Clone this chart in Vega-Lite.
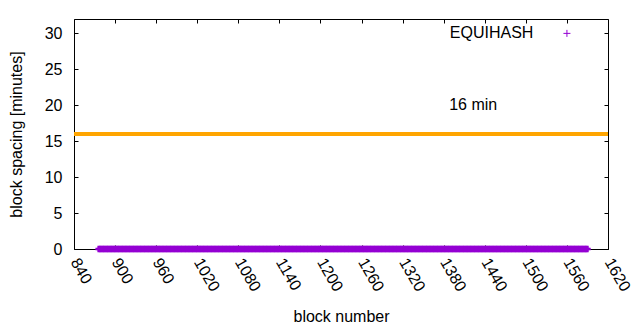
{
  "$schema": "https://vega.github.io/schema/vega-lite/v6.json",
  "width": 534,
  "height": 230,
  "autosize": "none",
  "padding": {"left": 74, "top": 19, "right": 32, "bottom": 81},
  "background": "white",
  "config": {
    "view": {"stroke": "black", "strokeWidth": 1},
    "font": "Liberation Sans",
    "axis": {
      "domain": false,
      "grid": false,
      "labelFont": "Liberation Sans",
      "labelFontSize": 16,
      "labelColor": "black",
      "tickColor": "black",
      "tickSize": -4,
      "tickWidth": 1,
      "format": "d",
      "titleFont": "Liberation Sans",
      "titleFontSize": 16,
      "titleFontWeight": "normal",
      "titleColor": "black"
    }
  },
  "datasets": {
    "target": [{"b": 840, "s": 16}, {"b": 1620, "s": 16}],
    "note": [{"b": 1388, "s": 20, "t": "16 min"}],
    "key": [{"b": 1511, "s": 30, "t": "EQUIHASH", "k": 1560}],
    "equihash": [
{"b":876,"s":0},{"b":878,"s":0},{"b":880,"s":0},{"b":882,"s":0},{"b":884,"s":0},{"b":886,"s":0},{"b":888,"s":0},{"b":890,"s":0},{"b":892,"s":0},{"b":894,"s":0},
{"b":896,"s":0},{"b":898,"s":0},{"b":900,"s":0},{"b":902,"s":0},{"b":904,"s":0},{"b":906,"s":0},{"b":908,"s":0},{"b":910,"s":0},{"b":912,"s":0},{"b":914,"s":0},
{"b":916,"s":0},{"b":918,"s":0},{"b":920,"s":0},{"b":922,"s":0},{"b":924,"s":0},{"b":926,"s":0},{"b":928,"s":0},{"b":930,"s":0},{"b":932,"s":0},{"b":934,"s":0},
{"b":936,"s":0},{"b":938,"s":0},{"b":940,"s":0},{"b":942,"s":0},{"b":944,"s":0},{"b":946,"s":0},{"b":948,"s":0},{"b":950,"s":0},{"b":952,"s":0},{"b":954,"s":0},
{"b":956,"s":0},{"b":958,"s":0},{"b":960,"s":0},{"b":962,"s":0},{"b":964,"s":0},{"b":966,"s":0},{"b":968,"s":0},{"b":970,"s":0},{"b":972,"s":0},{"b":974,"s":0},
{"b":976,"s":0},{"b":978,"s":0},{"b":980,"s":0},{"b":982,"s":0},{"b":984,"s":0},{"b":986,"s":0},{"b":988,"s":0},{"b":990,"s":0},{"b":992,"s":0},{"b":994,"s":0},
{"b":996,"s":0},{"b":998,"s":0},{"b":1000,"s":0},{"b":1002,"s":0},{"b":1004,"s":0},{"b":1006,"s":0},{"b":1008,"s":0},{"b":1010,"s":0},{"b":1012,"s":0},{"b":1014,"s":0},
{"b":1016,"s":0},{"b":1018,"s":0},{"b":1020,"s":0},{"b":1022,"s":0},{"b":1024,"s":0},{"b":1026,"s":0},{"b":1028,"s":0},{"b":1030,"s":0},{"b":1032,"s":0},{"b":1034,"s":0},
{"b":1036,"s":0},{"b":1038,"s":0},{"b":1040,"s":0},{"b":1042,"s":0},{"b":1044,"s":0},{"b":1046,"s":0},{"b":1048,"s":0},{"b":1050,"s":0},{"b":1052,"s":0},{"b":1054,"s":0},
{"b":1056,"s":0},{"b":1058,"s":0},{"b":1060,"s":0},{"b":1062,"s":0},{"b":1064,"s":0},{"b":1066,"s":0},{"b":1068,"s":0},{"b":1070,"s":0},{"b":1072,"s":0},{"b":1074,"s":0},
{"b":1076,"s":0},{"b":1078,"s":0},{"b":1080,"s":0},{"b":1082,"s":0},{"b":1084,"s":0},{"b":1086,"s":0},{"b":1088,"s":0},{"b":1090,"s":0},{"b":1092,"s":0},{"b":1094,"s":0},
{"b":1096,"s":0},{"b":1098,"s":0},{"b":1100,"s":0},{"b":1102,"s":0},{"b":1104,"s":0},{"b":1106,"s":0},{"b":1108,"s":0},{"b":1110,"s":0},{"b":1112,"s":0},{"b":1114,"s":0},
{"b":1116,"s":0},{"b":1118,"s":0},{"b":1120,"s":0},{"b":1122,"s":0},{"b":1124,"s":0},{"b":1126,"s":0},{"b":1128,"s":0},{"b":1130,"s":0},{"b":1132,"s":0},{"b":1134,"s":0},
{"b":1136,"s":0},{"b":1138,"s":0},{"b":1140,"s":0},{"b":1142,"s":0},{"b":1144,"s":0},{"b":1146,"s":0},{"b":1148,"s":0},{"b":1150,"s":0},{"b":1152,"s":0},{"b":1154,"s":0},
{"b":1156,"s":0},{"b":1158,"s":0},{"b":1160,"s":0},{"b":1162,"s":0},{"b":1164,"s":0},{"b":1166,"s":0},{"b":1168,"s":0},{"b":1170,"s":0},{"b":1172,"s":0},{"b":1174,"s":0},
{"b":1176,"s":0},{"b":1178,"s":0},{"b":1180,"s":0},{"b":1182,"s":0},{"b":1184,"s":0},{"b":1186,"s":0},{"b":1188,"s":0},{"b":1190,"s":0},{"b":1192,"s":0},{"b":1194,"s":0},
{"b":1196,"s":0},{"b":1198,"s":0},{"b":1200,"s":0},{"b":1202,"s":0},{"b":1204,"s":0},{"b":1206,"s":0},{"b":1208,"s":0},{"b":1210,"s":0},{"b":1212,"s":0},{"b":1214,"s":0},
{"b":1216,"s":0},{"b":1218,"s":0},{"b":1220,"s":0},{"b":1222,"s":0},{"b":1224,"s":0},{"b":1226,"s":0},{"b":1228,"s":0},{"b":1230,"s":0},{"b":1232,"s":0},{"b":1234,"s":0},
{"b":1236,"s":0},{"b":1238,"s":0},{"b":1240,"s":0},{"b":1242,"s":0},{"b":1244,"s":0},{"b":1246,"s":0},{"b":1248,"s":0},{"b":1250,"s":0},{"b":1252,"s":0},{"b":1254,"s":0},
{"b":1256,"s":0},{"b":1258,"s":0},{"b":1260,"s":0},{"b":1262,"s":0},{"b":1264,"s":0},{"b":1266,"s":0},{"b":1268,"s":0},{"b":1270,"s":0},{"b":1272,"s":0},{"b":1274,"s":0},
{"b":1276,"s":0},{"b":1278,"s":0},{"b":1280,"s":0},{"b":1282,"s":0},{"b":1284,"s":0},{"b":1286,"s":0},{"b":1288,"s":0},{"b":1290,"s":0},{"b":1292,"s":0},{"b":1294,"s":0},
{"b":1296,"s":0},{"b":1298,"s":0},{"b":1300,"s":0},{"b":1302,"s":0},{"b":1304,"s":0},{"b":1306,"s":0},{"b":1308,"s":0},{"b":1310,"s":0},{"b":1312,"s":0},{"b":1314,"s":0},
{"b":1316,"s":0},{"b":1318,"s":0},{"b":1320,"s":0},{"b":1322,"s":0},{"b":1324,"s":0},{"b":1326,"s":0},{"b":1328,"s":0},{"b":1330,"s":0},{"b":1332,"s":0},{"b":1334,"s":0},
{"b":1336,"s":0},{"b":1338,"s":0},{"b":1340,"s":0},{"b":1342,"s":0},{"b":1344,"s":0},{"b":1346,"s":0},{"b":1348,"s":0},{"b":1350,"s":0},{"b":1352,"s":0},{"b":1354,"s":0},
{"b":1356,"s":0},{"b":1358,"s":0},{"b":1360,"s":0},{"b":1362,"s":0},{"b":1364,"s":0},{"b":1366,"s":0},{"b":1368,"s":0},{"b":1370,"s":0},{"b":1372,"s":0},{"b":1374,"s":0},
{"b":1376,"s":0},{"b":1378,"s":0},{"b":1380,"s":0},{"b":1382,"s":0},{"b":1384,"s":0},{"b":1386,"s":0},{"b":1388,"s":0},{"b":1390,"s":0},{"b":1392,"s":0},{"b":1394,"s":0},
{"b":1396,"s":0},{"b":1398,"s":0},{"b":1400,"s":0},{"b":1402,"s":0},{"b":1404,"s":0},{"b":1406,"s":0},{"b":1408,"s":0},{"b":1410,"s":0},{"b":1412,"s":0},{"b":1414,"s":0},
{"b":1416,"s":0},{"b":1418,"s":0},{"b":1420,"s":0},{"b":1422,"s":0},{"b":1424,"s":0},{"b":1426,"s":0},{"b":1428,"s":0},{"b":1430,"s":0},{"b":1432,"s":0},{"b":1434,"s":0},
{"b":1436,"s":0},{"b":1438,"s":0},{"b":1440,"s":0},{"b":1442,"s":0},{"b":1444,"s":0},{"b":1446,"s":0},{"b":1448,"s":0},{"b":1450,"s":0},{"b":1452,"s":0},{"b":1454,"s":0},
{"b":1456,"s":0},{"b":1458,"s":0},{"b":1460,"s":0},{"b":1462,"s":0},{"b":1464,"s":0},{"b":1466,"s":0},{"b":1468,"s":0},{"b":1470,"s":0},{"b":1472,"s":0},{"b":1474,"s":0},
{"b":1476,"s":0},{"b":1478,"s":0},{"b":1480,"s":0},{"b":1482,"s":0},{"b":1484,"s":0},{"b":1486,"s":0},{"b":1488,"s":0},{"b":1490,"s":0},{"b":1492,"s":0},{"b":1494,"s":0},
{"b":1496,"s":0},{"b":1498,"s":0},{"b":1500,"s":0},{"b":1502,"s":0},{"b":1504,"s":0},{"b":1506,"s":0},{"b":1508,"s":0},{"b":1510,"s":0},{"b":1512,"s":0},{"b":1514,"s":0},
{"b":1516,"s":0},{"b":1518,"s":0},{"b":1520,"s":0},{"b":1522,"s":0},{"b":1524,"s":0},{"b":1526,"s":0},{"b":1528,"s":0},{"b":1530,"s":0},{"b":1532,"s":0},{"b":1534,"s":0},
{"b":1536,"s":0},{"b":1538,"s":0},{"b":1540,"s":0},{"b":1542,"s":0},{"b":1544,"s":0},{"b":1546,"s":0},{"b":1548,"s":0},{"b":1550,"s":0},{"b":1552,"s":0},{"b":1554,"s":0},
{"b":1556,"s":0},{"b":1558,"s":0},{"b":1560,"s":0},{"b":1562,"s":0},{"b":1564,"s":0},{"b":1566,"s":0},{"b":1568,"s":0},{"b":1570,"s":0},{"b":1572,"s":0},{"b":1574,"s":0},
{"b":1576,"s":0},{"b":1578,"s":0},{"b":1580,"s":0},{"b":1582,"s":0},{"b":1584,"s":0},{"b":1586,"s":0},{"b":1588,"s":0},{"b":1590,"s":0}
    ]
  },
  "resolve": {"axis": {"x": "independent", "y": "independent"}},
  "layer": [
    {
      "data": {"name": "target"},
      "mark": {"type": "line", "color": "#ffa500", "strokeWidth": 4, "clip": true},
      "encoding": {
        "x": {"field": "b", "type": "quantitative", "scale": {"domain": [840, 1620], "nice": false, "zero": false},
          "axis": {"orient": "bottom", "values": [840, 900, 960, 1020, 1080, 1140, 1200, 1260, 1320, 1380, 1440, 1500, 1560, 1620],
            "labelAngle": 60, "labelAlign": "left", "labelBaseline": "middle", "labelPadding": 14, "labelOverlap": false, "labelFlush": false,
            "title": "block number", "titlePadding": 15}},
        "y": {"field": "s", "type": "quantitative", "scale": {"domain": [0, 32], "nice": false},
          "axis": {"orient": "left", "values": [0, 5, 10, 15, 20, 25, 30], "labelPadding": 16, "labelOverlap": false, "labelFlush": false,
            "title": "block spacing [minutes]", "titlePadding": 20}}
      }
    },
    {
      "data": {"name": "equihash"},
      "mark": {"type": "point", "shape": "M-1,0L1,0M0,-1L0,1", "filled": false, "color": "#9400d3", "strokeWidth": 2.5, "size": 42, "opacity": 1, "clip": false},
      "encoding": {
        "x": {"field": "b", "type": "quantitative",
          "axis": {"orient": "top", "values": [840, 900, 960, 1020, 1080, 1140, 1200, 1260, 1320, 1380, 1440, 1500, 1560, 1620], "labels": false, "title": null}},
        "y": {"field": "s", "type": "quantitative",
          "axis": {"orient": "right", "values": [0, 5, 10, 15, 20, 25, 30], "labels": false, "title": null}}
      }
    },
    {
      "data": {"name": "note"},
      "mark": {"type": "text", "align": "left", "baseline": "middle", "fontSize": 16, "color": "black"},
      "encoding": {
        "x": {"field": "b", "type": "quantitative", "axis": null},
        "y": {"field": "s", "type": "quantitative", "axis": null},
        "text": {"field": "t"}
      }
    },
    {
      "data": {"name": "key"},
      "mark": {"type": "text", "align": "right", "baseline": "middle", "fontSize": 16, "color": "black"},
      "encoding": {
        "x": {"field": "b", "type": "quantitative", "axis": null},
        "y": {"field": "s", "type": "quantitative", "axis": null},
        "text": {"field": "t"}
      }
    },
    {
      "data": {"name": "key"},
      "mark": {"type": "point", "shape": "M-1,0L1,0M0,-1L0,1", "filled": false, "color": "#9400d3", "strokeWidth": 1, "size": 49, "opacity": 1},
      "encoding": {
        "x": {"field": "k", "type": "quantitative", "axis": null},
        "y": {"field": "s", "type": "quantitative", "axis": null}
      }
    }
  ]
}
